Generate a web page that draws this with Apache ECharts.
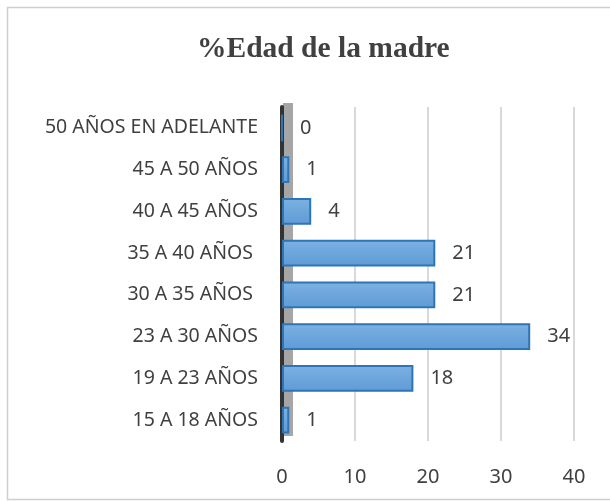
<!DOCTYPE html>
<html>
<head>
<meta charset="utf-8">
<script src="https://cdn.jsdelivr.net/npm/echarts@6/dist/echarts.min.js"></script>
<style>
  html, body { margin: 0; padding: 0; background: #fff; }
  #chart { width: 610px; height: 501px; }
</style>
</head>
<body>
<div id="chart"></div>
<script>
// datos (de abajo hacia arriba)
const categories = ['15 A 18 AÑOS', '19 A 23 AÑOS', '23 A 30 AÑOS', '30 A 35 AÑOS ', '35 A 40 AÑOS ', '40 A 45 AÑOS', '45 A 50 AÑOS', '50 AÑOS EN ADELANTE'];
const values = [1, 18, 34, 21, 21, 4, 1, 0];
const xTicks = [0, 10, 20, 30, 40];

const chart = echarts.init(document.getElementById('chart'));

const option = {
  animation: false,
  title: {
    text: '%Edad de la madre',
    left: 192,
    top: 29,
    textStyle: {
      fontFamily: 'Liberation Serif',
      fontWeight: 'bold',
      fontSize: 29.5,
      color: '#404040'
    }
  },
  graphic: [
    {
      type: 'rect',
      shape: { x: 7.5, y: 7.5, width: 610, height: 492 },
      style: { fill: 'none', stroke: '#cfcfcf', lineWidth: 1.5 },
      silent: true
    },
    {
      // pared gris del efecto 3D
      type: 'rect',
      shape: { x: 283, y: 103, width: 10, height: 333 },
      style: { fill: '#a6a6a6' },
      silent: true
    }
  ],
  grid: {
    left: 282,
    right: 36,
    top: 107,
    bottom: 60
  },
  xAxis: {
    type: 'value',
    min: xTicks[0],
    max: xTicks[xTicks.length - 1],
    interval: 10,
    axisLine: { show: false },
    axisTick: { show: false },
    axisLabel: {
      color: '#404040',
      fontSize: 20,
      fontFamily: 'Noto Sans',
      margin: 26
    },
    splitLine: {
      lineStyle: { color: '#d9d9d9', width: 2 }
    }
  },
  yAxis: {
    type: 'category',
    data: categories,
    axisLine: {
      lineStyle: { color: '#333333', width: 4 }
    },
    axisTick: { show: false },
    axisLabel: {
      color: '#404040',
      fontSize: 19.5,
      fontFamily: 'Noto Sans',
      margin: 24
    }
  },
  series: [
    {
      type: 'bar',
      data: values,
      barWidth: '64%',
      z: 5,
      itemStyle: {
        color: new echarts.graphic.LinearGradient(0, 0, 0, 1, [
          { offset: 0, color: '#7cb1e2' },
          { offset: 1, color: '#5f9bd6' }
        ]),
        borderColor: '#2e75b6',
        borderWidth: 2
      },
      label: {
        show: true,
        position: 'right',
        distance: 17,
        color: '#404040',
        fontSize: 20,
        fontFamily: 'Noto Sans'
      }
    }
  ]
};

chart.setOption(option);
</script>
</body>
</html>
